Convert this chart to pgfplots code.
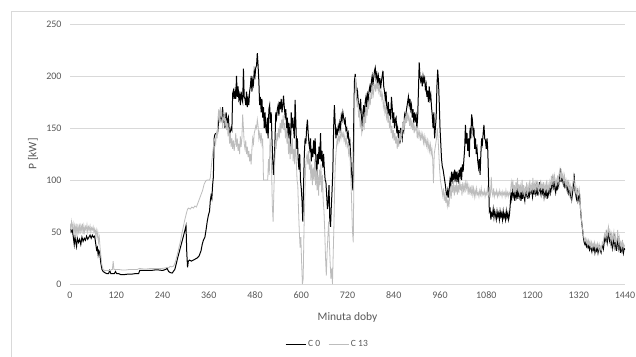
\documentclass[border=0pt]{standalone}
\usepackage{pgfplots}
\pgfplotsset{compat=1.18}
\usepackage{fontspec}
\setmainfont{Carlito}
\definecolor{txt}{HTML}{595959}
\definecolor{grd}{HTML}{D9D9D9}
\definecolor{cgray}{HTML}{BDBDBD}
\definecolor{frm}{HTML}{D9D9D9}
\begin{document}
\begin{tikzpicture}[x=1pt,y=1pt]
\useasboundingbox (0pt,0pt) rectangle (636pt,356pt);
\fill[white] (0pt,0pt) rectangle (636pt,356pt);
\draw[frm, line width=0.8pt] (11pt,-5pt) -- (11pt,345pt) -- (650pt,345pt);
\begin{axis}[at={(70pt,72pt)}, anchor=south west, scale only axis,
  width=555pt, height=260pt,
  xmin=0, xmax=1440, ymin=0, ymax=250,
  xtick={0,120,...,1440}, ytick={0,50,...,250},
  axis line style={draw=none}, tick style={draw=none},
  ymajorgrids, grid style={grd, line width=0.8pt},
  /pgf/number format/assume math mode=true,
  /pgf/number format/set thousands separator={},
  ticklabel style={font=\fontsize{10}{12}\selectfont, text=txt},
  xticklabel style={yshift=-4pt},
  yticklabel style={xshift=-5pt},
  legend style={at={(rel axis cs:0.5,0)}, anchor=center, xshift=-20pt, yshift=-60pt, draw=none, fill=none,
    font=\fontsize{9.5}{11}\selectfont, text=txt, legend columns=2,
    /tikz/every even column/.append style={column sep=6pt}},
  legend image code/.code={\draw[#1] (0pt,0pt) -- (20pt,0pt);},
]
\addplot[black, line width=1pt] coordinates {
(0,55)(3,50)(6,52)(9,44)(11,38)(13,45)(15,40)(17,36)(19,44)(22,40)(25,43)(28,38)(31,45)(34,41)(37,44)(40,42)(43,46)(46,43)(49,45)(52,47)(55,44)(58,47)(61,45)(64,46)(67,38)(69,33)(71,35)(73,28)(75,32)(77,30)(80,20)(83,14)(86,12)(90,11)(95,10)(100,10)(103,13)(106,10)(110,10)(115,10)(118,12)(121,10)(126,10)(132,9)(140,9)(150,9.5)(160,9.5)(170,10)(178,10)(181,13)(190,13)(200,13)(210,13)(220,13.5)(230,13.5)(240,13)(248,14)(252,15)(256,12)(260,11)(265,10.5)(268,12)(272,14)(276,20)(280,26)(285,33)(290,40)(295,47)(299,53)(301,56)(303,30)(305,16)(307,22)(310,23)(315,22)(320,23)(325,24)(330,25)(335,27)(340,32)(343,38)(346,42)(350,45)(353,52)(356,60)(359,66)(362,70)(364,80)(366,85)(368,82)(370,95)(372,103)(374,140)(376,144)(380,145)(383,145)(386,158)(388,162)(390,166)(392,158)(394,162)(396,170)(398,155)(400,163)(402,150)(405,165)(408,155)(411,160)(413,148)(415,145)(418,150)(420,148)(422,183)(424,186)(426,178)(428,185)(430,178)(432,200)(434,180)(436,190)(438,178)(440,182)(442,172)(444,185)(446,178)(448,175)(450,207)(452,180)(454,178)(456,172)(458,185)(460,170)(462,178)(464,172)(466,185)(468,190)(470,200)(472,185)(474,196)(476,192)(478,205)(480,200)(482,208)(484,210)(486,222)(488,210)(490,195)(492,172)(494,180)(496,165)(498,178)(500,160)(502,170)(504,150)(506,165)(508,150)(510,145)(512,160)(514,140)(516,168)(518,172)(520,155)(522,165)(524,140)(526,120)(528,105)(530,118)(532,140)(534,165)(536,160)(538,168)(540,172)(542,162)(544,175)(546,168)(548,178)(550,165)(552,172)(554,181)(556,170)(558,162)(560,168)(562,150)(564,160)(566,140)(568,155)(570,145)(572,130)(574,165)(576,150)(578,160)(580,150)(582,140)(584,177)(586,155)(588,130)(590,140)(592,120)(594,110)(596,125)(598,100)(600,92)(602,80)(604,60)(606,95)(608,125)(610,140)(612,135)(614,150)(616,158)(618,145)(620,135)(622,130)(624,140)(626,118)(628,130)(630,122)(632,138)(634,125)(636,140)(638,120)(640,100)(642,125)(644,115)(646,132)(648,120)(650,145)(652,118)(654,128)(656,112)(658,125)(660,110)(662,100)(664,98)(666,85)(668,72)(670,80)(672,95)(674,62)(676,55)(678,75)(680,90)(682,110)(684,150)(686,172)(688,155)(690,140)(692,148)(694,145)(696,152)(698,148)(700,155)(702,150)(704,162)(706,158)(708,165)(710,160)(712,155)(714,158)(716,148)(718,150)(720,142)(722,145)(724,135)(726,138)(728,125)(730,110)(732,100)(734,90)(736,150)(738,195)(740,202)(742,190)(744,180)(746,185)(748,175)(750,172)(752,168)(754,178)(756,160)(758,147)(760,165)(762,172)(764,160)(766,175)(768,180)(770,170)(772,182)(774,178)(776,186)(778,190)(780,184)(782,195)(784,200)(786,192)(788,198)(790,205)(792,208)(794,198)(796,202)(798,195)(800,200)(802,192)(804,198)(806,188)(808,195)(810,200)(812,205)(814,190)(816,185)(818,178)(820,185)(822,170)(824,165)(826,175)(828,162)(830,168)(832,158)(834,180)(836,170)(838,155)(840,165)(842,150)(844,158)(846,160)(848,145)(850,150)(852,140)(854,148)(856,135)(858,150)(860,145)(862,140)(864,152)(866,148)(868,162)(870,158)(872,165)(874,170)(876,175)(878,180)(880,172)(882,178)(884,168)(886,172)(888,160)(890,168)(892,155)(894,165)(896,158)(898,162)(900,150)(902,160)(904,185)(906,213)(908,200)(910,195)(912,198)(914,190)(916,200)(918,195)(920,198)(922,188)(924,192)(926,180)(928,186)(930,175)(932,190)(934,178)(936,182)(938,170)(940,162)(942,150)(944,165)(946,140)(948,150)(950,160)(952,190)(954,206)(956,195)(958,175)(960,150)(962,135)(964,120)(966,113)(968,110)(970,105)(972,100)(974,95)(976,88)(978,85)(980,90)(982,83)(984,92)(986,100)(988,95)(990,108)(992,100)(994,105)(996,98)(998,110)(1000,102)(1002,108)(1004,98)(1006,105)(1008,100)(1010,110)(1012,104)(1014,112)(1016,100)(1018,115)(1020,108)(1022,120)(1024,130)(1026,153)(1028,135)(1030,145)(1032,128)(1034,140)(1036,122)(1038,150)(1040,140)(1042,163)(1044,158)(1046,145)(1048,150)(1050,130)(1052,140)(1054,125)(1056,130)(1058,118)(1060,112)(1062,120)(1064,105)(1066,125)(1068,140)(1070,135)(1072,145)(1074,153)(1076,140)(1078,138)(1080,130)(1082,140)(1084,128)(1086,100)(1088,70)(1090,72)(1092,62)(1094,68)(1096,66)(1098,72)(1100,64)(1102,70)(1104,66)(1106,62)(1108,70)(1110,65)(1112,68)(1114,62)(1116,70)(1118,65)(1120,68)(1122,62)(1124,70)(1126,64)(1128,67)(1130,62)(1132,70)(1134,64)(1136,68)(1138,62)(1140,66)(1142,75)(1144,88)(1146,82)(1148,90)(1150,85)(1152,92)(1154,80)(1156,88)(1158,84)(1160,92)(1162,82)(1164,95)(1166,85)(1168,90)(1170,80)(1172,88)(1174,82)(1176,92)(1178,84)(1180,80)(1182,90)(1184,86)(1186,92)(1188,82)(1190,88)(1192,85)(1194,95)(1196,88)(1198,90)(1200,84)(1202,92)(1204,86)(1206,96)(1208,88)(1210,94)(1212,85)(1214,92)(1216,88)(1218,98)(1220,90)(1222,86)(1224,95)(1226,88)(1228,92)(1230,84)(1232,90)(1234,86)(1236,94)(1238,82)(1240,90)(1242,86)(1244,92)(1246,88)(1248,98)(1250,92)(1252,100)(1254,94)(1256,102)(1258,92)(1260,88)(1262,96)(1264,90)(1266,100)(1268,95)(1270,104)(1272,108)(1274,98)(1276,104)(1278,100)(1280,96)(1282,102)(1284,92)(1286,98)(1288,95)(1290,90)(1292,96)(1294,88)(1296,92)(1298,85)(1300,90)(1302,82)(1304,88)(1306,95)(1308,106)(1310,90)(1312,86)(1314,82)(1316,88)(1318,80)(1320,84)(1322,86)(1324,75)(1326,65)(1328,58)(1330,52)(1332,45)(1334,40)(1336,38)(1338,40)(1340,36)(1342,38)(1344,35)(1346,37)(1348,33)(1350,36)(1352,34)(1354,31)(1356,36)(1358,33)(1360,36)(1362,30)(1364,34)(1366,32)(1368,36)(1370,30)(1372,34)(1374,36)(1376,32)(1378,30)(1380,35)(1382,38)(1384,34)(1386,40)(1388,45)(1390,42)(1392,48)(1394,40)(1396,45)(1398,50)(1400,42)(1402,46)(1404,38)(1406,44)(1408,35)(1410,40)(1412,45)(1414,36)(1416,42)(1418,32)(1420,38)(1422,46)(1424,35)(1426,40)(1428,30)(1430,36)(1432,32)(1434,38)(1436,30)(1438,34)(1440,33)
};
\addlegendentry{C 0}
\addplot[cgray, line width=0.8pt] coordinates {
(0,58)(2,52)(4,60)(6,54)(8,58)(10,48)(12,56)(14,50)(16,58)(18,46)(20,55)(22,50)(24,58)(26,48)(28,56)(30,52)(32,58)(34,48)(36,56)(38,50)(40,55)(42,52)(44,57)(46,50)(48,55)(50,52)(52,56)(54,50)(56,54)(58,52)(60,55)(62,50)(64,53)(66,48)(68,52)(70,45)(72,50)(74,40)(76,45)(78,35)(80,28)(82,20)(84,16)(86,14)(90,13)(95,13)(100,13)(105,13)(108,14)(110,14)(112,22)(114,14)(118,14)(125,14)(135,13.5)(145,13.5)(155,14)(165,14)(175,14)(180,15)(190,14.5)(200,14.5)(210,15)(220,15)(230,15)(240,15)(248,15.5)(252,16)(256,15.5)(260,17)(264,16.5)(268,17)(270,18)(274,22)(278,28)(282,34)(286,40)(290,48)(294,55)(298,62)(302,68)(305,72)(308,73)(312,72)(316,74)(320,73)(324,75)(328,74)(332,78)(336,82)(340,86)(344,90)(348,96)(352,99)(356,100)(360,100)(362,100)(364,102)(366,110)(368,118)(370,125)(372,132)(374,138)(376,140)(378,135)(380,145)(382,140)(384,160)(386,168)(388,155)(390,170)(392,162)(394,165)(396,150)(398,158)(400,165)(402,152)(404,160)(406,148)(408,155)(410,142)(412,150)(414,135)(416,145)(418,132)(420,140)(422,130)(424,138)(426,128)(428,135)(430,145)(432,132)(434,140)(436,128)(438,135)(440,125)(442,142)(444,132)(446,140)(448,163)(450,150)(452,135)(454,130)(456,138)(458,125)(460,132)(462,122)(464,128)(466,118)(468,125)(470,115)(472,130)(474,140)(476,135)(478,145)(480,148)(482,152)(484,150)(486,158)(488,152)(490,140)(492,145)(494,138)(496,145)(498,135)(500,140)(502,100)(505,100)(508,100)(511,100)(513,100)(515,120)(517,105)(519,140)(521,130)(523,110)(525,75)(527,60)(529,90)(531,115)(533,135)(535,130)(537,145)(539,140)(541,150)(543,140)(545,155)(547,145)(549,158)(551,150)(553,162)(555,148)(557,155)(559,140)(561,150)(563,135)(565,145)(567,125)(569,140)(571,120)(573,135)(575,125)(577,140)(579,118)(581,130)(583,115)(585,140)(587,120)(589,100)(591,95)(593,70)(595,50)(597,35)(599,45)(601,20)(603,0)(605,5)(607,50)(609,80)(611,110)(613,120)(615,125)(617,115)(619,128)(621,110)(623,120)(625,100)(627,115)(629,95)(631,112)(633,100)(635,120)(637,95)(639,110)(641,90)(643,105)(645,85)(647,110)(649,95)(651,115)(653,88)(655,105)(657,80)(659,70)(661,50)(663,25)(665,8)(667,30)(669,45)(671,60)(673,40)(675,20)(677,5)(679,15)(681,0)(683,30)(685,60)(687,100)(689,120)(691,130)(693,140)(695,135)(697,142)(699,138)(701,145)(703,140)(705,147)(707,142)(709,145)(711,138)(713,143)(715,135)(717,140)(719,132)(721,135)(723,125)(725,130)(727,118)(729,100)(731,75)(733,50)(735,40)(737,120)(739,180)(741,199)(743,185)(745,170)(747,175)(749,160)(751,165)(753,150)(755,158)(757,145)(759,150)(761,160)(763,148)(765,165)(767,155)(769,170)(771,162)(773,175)(775,168)(777,180)(779,172)(781,185)(783,178)(785,190)(787,182)(789,188)(791,192)(793,185)(795,195)(797,188)(799,192)(801,185)(803,190)(805,180)(807,186)(809,178)(811,182)(813,170)(815,175)(817,165)(819,170)(821,160)(823,165)(825,155)(827,162)(829,150)(831,158)(833,145)(835,152)(837,140)(839,148)(841,138)(843,145)(845,135)(847,142)(849,130)(851,140)(853,132)(855,145)(857,138)(859,148)(861,142)(863,155)(865,148)(867,160)(869,152)(871,162)(873,155)(875,165)(877,158)(879,162)(881,152)(883,160)(885,150)(887,158)(889,148)(891,155)(893,145)(895,152)(897,148)(899,150)(901,140)(903,148)(905,142)(907,146)(909,138)(911,145)(913,140)(915,144)(917,136)(919,142)(921,135)(923,140)(925,133)(927,138)(929,130)(931,136)(933,128)(935,134)(937,125)(939,130)(941,120)(943,97)(945,125)(947,130)(949,135)(951,140)(953,150)(955,140)(957,125)(959,110)(961,100)(963,95)(965,90)(967,85)(969,92)(971,80)(973,88)(975,78)(977,85)(979,75)(981,80)(983,74)(985,84)(987,90)(989,82)(991,95)(993,88)(995,100)(997,85)(999,95)(1001,88)(1003,98)(1005,86)(1007,95)(1009,88)(1011,100)(1013,90)(1015,96)(1017,85)(1019,98)(1021,90)(1023,95)(1025,88)(1027,100)(1029,92)(1031,96)(1033,86)(1035,94)(1037,88)(1039,92)(1041,85)(1043,95)(1045,86)(1047,92)(1049,84)(1051,90)(1053,85)(1055,92)(1057,86)(1059,88)(1061,84)(1063,90)(1065,86)(1067,92)(1069,85)(1071,88)(1073,86)(1075,90)(1077,84)(1079,88)(1081,86)(1083,92)(1085,85)(1087,88)(1089,90)(1091,86)(1093,103)(1095,88)(1097,85)(1099,92)(1101,84)(1103,88)(1105,86)(1107,90)(1109,84)(1111,88)(1113,85)(1115,90)(1117,86)(1119,88)(1121,84)(1123,89)(1125,86)(1127,88)(1129,84)(1131,90)(1133,85)(1135,88)(1137,84)(1139,88)(1141,86)(1143,90)(1145,98)(1147,92)(1149,100)(1151,88)(1153,95)(1155,86)(1157,98)(1159,90)(1161,102)(1163,88)(1165,96)(1167,85)(1169,94)(1171,88)(1173,100)(1175,86)(1177,95)(1179,84)(1181,92)(1183,88)(1185,98)(1187,85)(1189,94)(1191,88)(1193,100)(1195,90)(1197,95)(1199,88)(1201,102)(1203,90)(1205,96)(1207,88)(1209,100)(1211,92)(1213,97)(1215,88)(1217,95)(1219,92)(1221,100)(1223,90)(1225,96)(1227,92)(1229,98)(1231,88)(1233,95)(1235,90)(1237,100)(1239,88)(1241,95)(1243,90)(1245,98)(1247,92)(1249,104)(1251,95)(1253,106)(1255,98)(1257,104)(1259,95)(1261,100)(1263,94)(1265,104)(1267,98)(1269,106)(1271,110)(1273,100)(1275,108)(1277,102)(1279,106)(1281,98)(1283,104)(1285,95)(1287,100)(1289,94)(1291,98)(1293,92)(1295,96)(1297,88)(1299,94)(1301,86)(1303,92)(1305,98)(1307,104)(1309,95)(1311,90)(1313,86)(1315,92)(1317,84)(1319,88)(1321,92)(1323,85)(1325,70)(1327,62)(1329,55)(1331,50)(1333,45)(1335,42)(1337,44)(1339,40)(1341,43)(1343,38)(1345,42)(1347,38)(1349,41)(1351,36)(1353,40)(1355,35)(1357,39)(1359,36)(1361,40)(1363,34)(1365,38)(1367,35)(1369,39)(1371,34)(1373,38)(1375,32)(1377,36)(1379,33)(1381,40)(1383,38)(1385,44)(1387,48)(1389,45)(1391,52)(1393,44)(1395,50)(1397,55)(1399,46)(1401,50)(1403,42)(1405,48)(1407,40)(1409,45)(1411,50)(1413,40)(1415,46)(1417,38)(1419,42)(1421,52)(1423,40)(1425,45)(1427,36)(1429,40)(1431,35)(1433,42)(1435,34)(1437,38)(1439,36)
};
\addlegendentry{C 13}
\end{axis}
\node[text=txt, font=\fontsize{11.5}{13}\selectfont] at (347.5pt,39pt) {Minuta doby};
\node[text=txt, font=\fontsize{11.5}{13}\selectfont, rotate=90] at (33pt,202pt) {P [kW]};
\end{tikzpicture}
\end{document}
